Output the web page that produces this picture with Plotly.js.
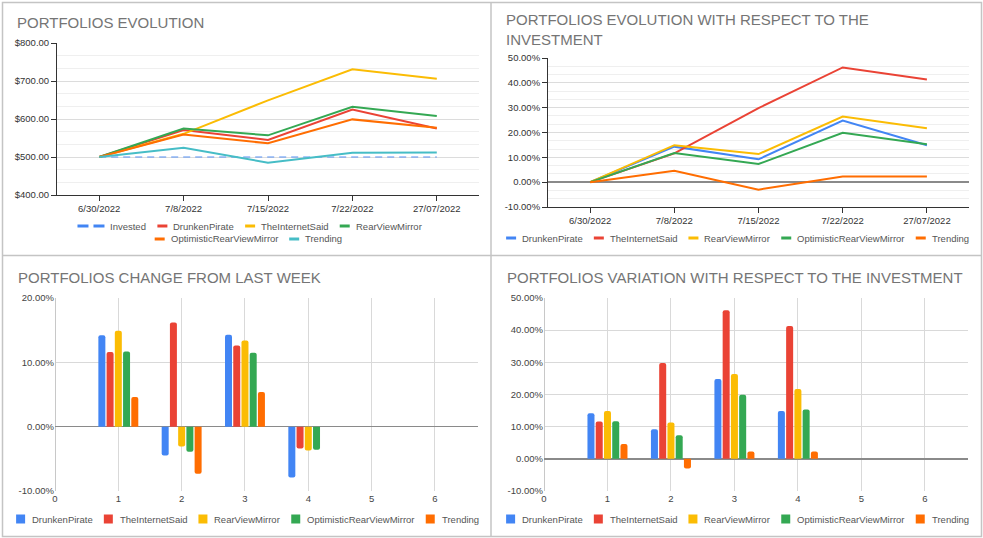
<!DOCTYPE html>
<html>
<head>
<meta charset="utf-8">
<script src="https://cdn.plot.ly/plotly-3.0.1.min.js"></script>
<style>
html,body{margin:0;padding:0;background:#fff;}
#chart{width:983px;height:538px;}
</style>
</head>
<body>
<div id="chart"></div>
<script>
// ---------------- DATA ----------------
const dates = ['6/30/2022', '7/8/2022', '7/15/2022', '7/22/2022', '27/07/2022'];

// Chart 1: portfolio values ($)
const valInvested = [500, 500, 500, 500, 500];
const valDrunkenPirate = [500, 571, 545, 625, 575];
const valTheInternetSaid = [500, 561, 649, 731, 706];
const valRearViewMirror = [500, 575, 557, 632, 608];
const valOptimistic = [500, 559, 536, 599, 577];
const valTrending = [500, 524, 485, 511, 512];

// Chart 2: evolution with respect to the investment (fraction)
const evoDrunkenPirate = [0, 0.143, 0.092, 0.248, 0.149];
const evoTheInternetSaid = [0, 0.116, 0.298, 0.462, 0.413];
const evoRearViewMirror = [0, 0.149, 0.113, 0.264, 0.217];
const evoOptimistic = [0, 0.117, 0.073, 0.199, 0.153];
const evoTrending = [0, 0.046, -0.030, 0.023, 0.023];

// Chart 3: change from last week (fraction)
const weeks = [1, 2, 3, 4];
const wkDrunkenPirate = [0.142, -0.045, 0.143, -0.079];
const wkTheInternetSaid = [0.116, 0.162, 0.126, -0.034];
const wkRearViewMirror = [0.149, -0.031, 0.134, -0.037];
const wkOptimistic = [0.117, -0.039, 0.115, -0.036];
const wkTrending = [0.046, -0.073, 0.054, 0];

// Chart 4: variation with respect to the investment (fraction)
const varDrunkenPirate = [0.142, 0.092, 0.248, 0.149];
const varTheInternetSaid = [0.116, 0.298, 0.462, 0.413];
const varRearViewMirror = [0.149, 0.113, 0.264, 0.217];
const varOptimistic = [0.117, 0.073, 0.199, 0.153];
const varTrending = [0.046, -0.030, 0.023, 0.023];

// Tick labels
const evoTickVals = [-0.1, 0, 0.1, 0.2, 0.3, 0.4, 0.5];
const evoTickText = ['-10.00%', '0.00%', '10.00%', '20.00%', '30.00%', '40.00%', '50.00%'];
const wkTickVals = [-0.1, 0, 0.1, 0.2];
const wkTickText = ['-10.00%', '0.00%', '10.00%', '20.00%'];
const barTickVals = [0, 1, 2, 3, 4, 5, 6];

const titles = ['PORTFOLIOS EVOLUTION', 'PORTFOLIOS EVOLUTION WITH RESPECT TO THE<br>INVESTMENT',
                'PORTFOLIOS CHANGE FROM LAST WEEK', 'PORTFOLIOS VARIATION WITH RESPECT TO THE INVESTMENT'];

// ---------------- STYLE ----------------
const W = 983, H = 538;
const FONT = '"Liberation Sans", Arial, sans-serif';
const C = {blue: '#4285F4', red: '#EA4335', yellow: '#FBBC04', green: '#34A853', orange: '#FF6D01', teal: '#46BDC6'};
const px = v => v / W;
const py = v => 1 - v / H;
const tickFont = {family: FONT, size: 9.5, color: '#333'};
const tickFontBar = {family: FONT, size: 9.5, color: '#444'};

function line(x, y, name, color, xa, ya, extra) {
  return Object.assign({type: 'scatter', mode: 'lines', x: x, y: y, name: name,
    line: {color: color, width: 2}, xaxis: xa, yaxis: ya, hoverinfo: 'x+y+name'}, extra || {});
}
function bar(x, y, name, color, xa, ya) {
  return {type: 'bar', x: x, y: y, name: name, marker: {color: color}, xaxis: xa, yaxis: ya};
}

const traces = [
  line(dates, valInvested, 'Invested', 'rgba(66,133,244,0.45)', 'x', 'y', {line: {color: 'rgba(66,133,244,0.45)', width: 2, dash: '7px,5px'}}),
  line(dates, valDrunkenPirate, 'DrunkenPirate', C.red, 'x', 'y'),
  line(dates, valTheInternetSaid, 'TheInternetSaid', C.yellow, 'x', 'y'),
  line(dates, valRearViewMirror, 'RearViewMirror', C.green, 'x', 'y'),
  line(dates, valOptimistic, 'OptimisticRearViewMirror', C.orange, 'x', 'y'),
  line(dates, valTrending, 'Trending', C.teal, 'x', 'y'),

  line(dates, evoDrunkenPirate, 'DrunkenPirate', C.blue, 'x2', 'y2'),
  line(dates, evoTheInternetSaid, 'TheInternetSaid', C.red, 'x2', 'y2'),
  line(dates, evoRearViewMirror, 'RearViewMirror', C.yellow, 'x2', 'y2'),
  line(dates, evoOptimistic, 'OptimisticRearViewMirror', C.green, 'x2', 'y2'),
  line(dates, evoTrending, 'Trending', C.orange, 'x2', 'y2'),

  bar(weeks, wkDrunkenPirate, 'DrunkenPirate', C.blue, 'x3', 'y3'),
  bar(weeks, wkTheInternetSaid, 'TheInternetSaid', C.red, 'x3', 'y3'),
  bar(weeks, wkRearViewMirror, 'RearViewMirror', C.yellow, 'x3', 'y3'),
  bar(weeks, wkOptimistic, 'OptimisticRearViewMirror', C.green, 'x3', 'y3'),
  bar(weeks, wkTrending, 'Trending', C.orange, 'x3', 'y3'),

  bar(weeks, varDrunkenPirate, 'DrunkenPirate', C.blue, 'x4', 'y4'),
  bar(weeks, varTheInternetSaid, 'TheInternetSaid', C.red, 'x4', 'y4'),
  bar(weeks, varRearViewMirror, 'RearViewMirror', C.yellow, 'x4', 'y4'),
  bar(weeks, varOptimistic, 'OptimisticRearViewMirror', C.green, 'x4', 'y4'),
  bar(weeks, varTrending, 'Trending', C.orange, 'x4', 'y4')
];

// ---------------- AXES ----------------
const lineX = (dom, anchor) => ({
  domain: dom, anchor: anchor, type: 'category', range: [-0.5, 4.5],
  showline: true, linecolor: '#333', linewidth: 1, ticks: 'outside', ticklen: 5, tickcolor: '#333',
  showgrid: false, zeroline: false, tickfont: tickFont, fixedrange: true
});
const barX = (dom, anchor) => ({
  domain: dom, anchor: anchor, range: [0, 6.68], tickmode: 'array', tickvals: barTickVals,
  showline: false, showgrid: true, gridcolor: '#d9d9d9', zeroline: true, zerolinecolor: '#c8c8c8',
  zerolinewidth: 1, ticks: '', tickfont: tickFontBar, fixedrange: true
});
const barY = (dom, anchor, rng, vals, text) => ({
  domain: dom, anchor: anchor, range: rng, tickmode: 'array', tickvals: vals, ticktext: text,
  showline: false, showgrid: true, gridcolor: '#d9d9d9', zeroline: true, zerolinecolor: '#8a8a8a',
  zerolinewidth: 1.5, ticks: '', tickfont: tickFontBar, fixedrange: true
});

// ---------------- ANNOTATIONS & SHAPES ----------------
const annotations = [];
const shapes = [];
function title(text, x, y) {
  annotations.push({text: text, xref: 'paper', yref: 'paper', x: px(x), y: py(y), xanchor: 'left', yanchor: 'middle',
    align: 'left', showarrow: false, font: {family: FONT, size: 15, color: '#757575'}});
}
title(titles[0], 15, 22);
title(titles[1], 504, 29.5);
title(titles[2], 16, 277.5);
title(titles[3], 505, 277.5);

// custom legends (symbol + real text), items centred under each panel
const ctx = document.createElement('canvas').getContext('2d');
ctx.font = '9.5px "Liberation Sans"';
function legendRow(items, cx, cy) {
  const parts = items.map(it => {
    const sw = it.kind === 'square' ? 9 : (it.kind === 'dash' ? 27 : 10);
    const g = it.kind === 'square' ? 6 : 5;
    return {sw: sw, g: g, tw: ctx.measureText(it.name).width};
  });
  const gap = 12;
  const total = parts.reduce((s, p) => s + p.sw + p.g + p.tw, 0) + gap * (items.length - 1);
  let x = cx - total / 2;
  items.forEach((it, i) => {
    const p = parts[i];
    if (it.kind === 'square') {
      shapes.push({type: 'rect', xref: 'paper', yref: 'paper', x0: px(x), x1: px(x + p.sw),
        y0: py(cy + 4.5), y1: py(cy - 4.5), fillcolor: it.color, line: {width: 0}});
    } else {
      shapes.push({type: 'line', xref: 'paper', yref: 'paper', x0: px(x), x1: px(x + p.sw), y0: py(cy), y1: py(cy),
        line: {color: it.color, width: 3, dash: it.kind === 'dash' ? '11px,5px' : 'solid'}});
    }
    annotations.push({text: it.name, xref: 'paper', yref: 'paper', x: px(x + p.sw + p.g - 1), y: py(cy),
      xanchor: 'left', yanchor: 'middle', showarrow: false, font: {family: FONT, size: 9.5, color: '#555'}});
    x += p.sw + p.g + p.tw + gap;
  });
}
legendRow([
  {name: 'Invested', color: C.blue, kind: 'dash'},
  {name: 'DrunkenPirate', color: C.red, kind: 'line'},
  {name: 'TheInternetSaid', color: C.yellow, kind: 'line'},
  {name: 'RearViewMirror', color: C.green, kind: 'line'}
], 249, 226);
legendRow([
  {name: 'OptimisticRearViewMirror', color: C.orange, kind: 'line'},
  {name: 'Trending', color: C.teal, kind: 'line'}
], 248, 239);
const five = kind => [
  {name: 'DrunkenPirate', color: C.blue, kind: kind},
  {name: 'TheInternetSaid', color: C.red, kind: kind},
  {name: 'RearViewMirror', color: C.yellow, kind: kind},
  {name: 'OptimisticRearViewMirror', color: C.green, kind: kind},
  {name: 'Trending', color: C.orange, kind: kind}
];
legendRow(five('line'), 737, 238);
legendRow(five('square'), 247, 519);
legendRow(five('square'), 737, 519);

// panel borders
const border = '#c4c4c4';
shapes.push({type: 'rect', xref: 'paper', yref: 'paper', x0: px(2.5), x1: px(981.5), y0: py(536.5), y1: py(2.5),
  line: {color: border, width: 1.5}, layer: 'below'});
shapes.push({type: 'line', xref: 'paper', yref: 'paper', x0: px(491), x1: px(491), y0: py(2.5), y1: py(536.5),
  line: {color: border, width: 1.5}, layer: 'below'});
shapes.push({type: 'line', xref: 'paper', yref: 'paper', x0: px(2.5), x1: px(981.5), y0: py(255.5), y1: py(255.5),
  line: {color: border, width: 1.5}, layer: 'below'});

// ---------------- LAYOUT ----------------
const layout = {
  width: W, height: H, margin: {l: 0, r: 0, t: 0, b: 0, pad: 0},
  paper_bgcolor: '#fff', plot_bgcolor: '#fff', showlegend: false,
  font: {family: FONT, size: 9.5, color: '#444'},
  barmode: 'group', bargap: 0.35, bargroupgap: 0.15, barcornerradius: 2,
  xaxis: lineX([px(57), px(479)], 'y'),
  yaxis: {domain: [py(195), py(43)], anchor: 'x', range: [400, 800], tick0: 400, dtick: 100, tickformat: '$.2f',
    showline: true, linecolor: '#333', linewidth: 1, ticks: 'outside', ticklen: 5, tickcolor: '#333',
    showgrid: true, gridcolor: '#dcdcdc', zeroline: false, tickfont: tickFont, fixedrange: true,
    minor: {tick0: 400, dtick: 100 / 3, showgrid: true, gridcolor: '#efefef', ticks: ''}},
  xaxis2: lineX([px(548), px(969)], 'y2'),
  yaxis2: {domain: [py(207), py(58)], anchor: 'x2', range: [-0.1, 0.5], tickmode: 'array',
    tickvals: evoTickVals, ticktext: evoTickText,
    showline: true, linecolor: '#333', linewidth: 1, ticks: 'outside', ticklen: 5, tickcolor: '#333',
    showgrid: true, gridcolor: '#dcdcdc', zeroline: true, zerolinecolor: '#8a8a8a', zerolinewidth: 1.5,
    tickfont: tickFont, fixedrange: true,
    minor: {tickmode: 'linear', tick0: -0.1, dtick: 0.1 / 3, showgrid: true, gridcolor: '#efefef', ticks: ''}},
  xaxis3: barX([px(55), px(478)], 'y3'),
  yaxis3: barY([py(491), py(298)], 'x3', [-0.1, 0.2], wkTickVals, wkTickText),
  xaxis4: barX([px(544), px(968)], 'y4'),
  yaxis4: barY([py(491), py(298)], 'x4', [-0.1, 0.5], evoTickVals, evoTickText),
  annotations: annotations,
  shapes: shapes
};

Plotly.newPlot('chart', traces, layout, {displayModeBar: false, staticPlot: true});
</script>
</body>
</html>
